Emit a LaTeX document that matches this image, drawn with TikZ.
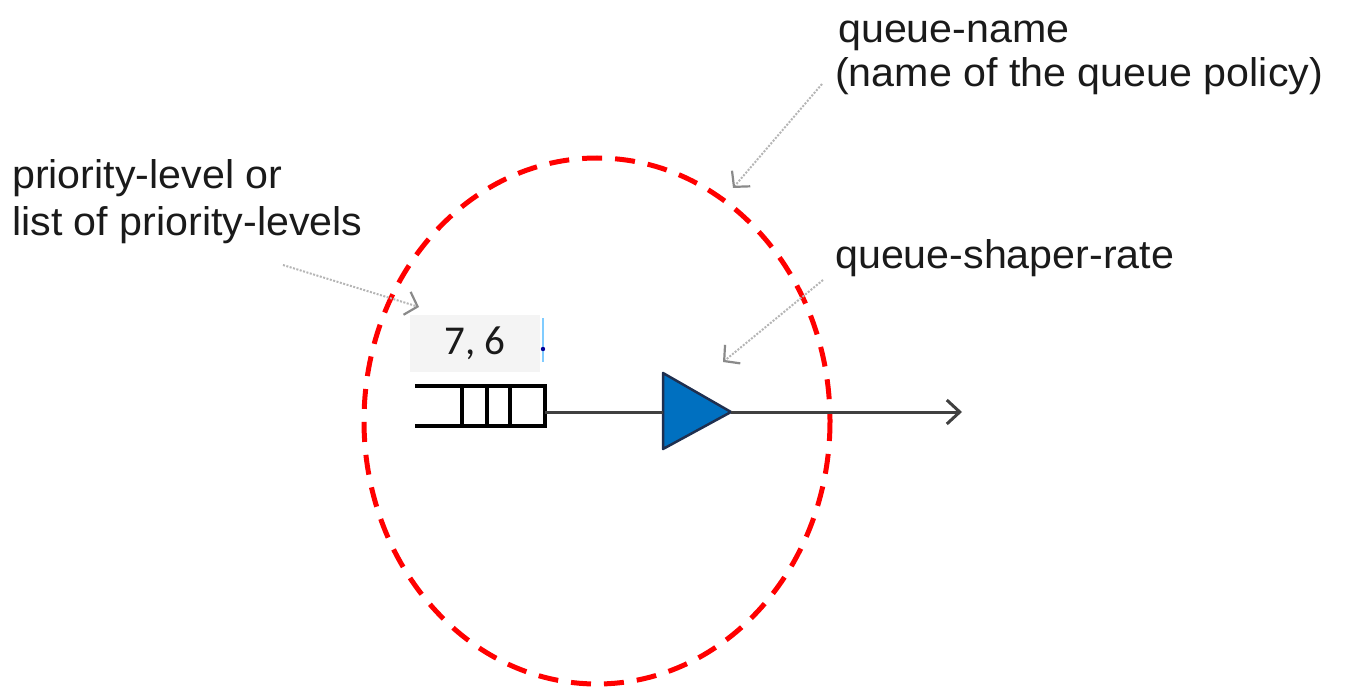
\documentclass[tikz,border=0pt]{standalone}
\usepackage{fontspec}
\setmainfont{Liberation Sans}
\newfontfamily\numfont{Carlito}
\usetikzlibrary{arrows.meta}
\definecolor{txt}{HTML}{1A1A1A}
\definecolor{shaperblue}{HTML}{0070C0}
\definecolor{shaperedge}{HTML}{1F2F4F}
\definecolor{lblgray}{HTML}{B5B5B5}
\definecolor{tipgray}{HTML}{8A8A8A}
\definecolor{boxbg}{HTML}{F4F4F4}
\tikzset{
  lbl/.style={anchor=base west, inner sep=0pt, text=txt, font=\fontsize{40}{46}\selectfont, xscale=1.03},
  pointer/.style={draw=lblgray, line width=2pt, dash pattern=on 2pt off 1.5pt,
    -{Straight Barb[length=11pt,width=24pt,line width=2.2pt,color=tipgray]}},
  queueline/.style={line width=4pt, draw=black, line cap=rect},
}
\begin{document}
\begin{tikzpicture}[x=1pt,y=-1pt]
\useasboundingbox (0,0) rectangle (1347,687);
% labels
\node[lbl] (qn1) at (838,43) {queue-name};
\node[lbl] (qn2) at (835,87) {(name of the queue policy)};
\node[lbl] (pl1) at (12,189) {priority-level or};
\node[lbl] (pl2) at (12,236) {list of priority-levels};
\node[lbl] (qs) at (835,269) {queue-shaper-rate};
% dashed circle
\draw[red, line width=5pt, dash pattern=on 20pt off 13pt] (597,421) ellipse [x radius=233, y radius=263];
% priority box
\node[fill=boxbg, minimum width=130pt, minimum height=57pt, inner sep=0pt,
      font=\numfont\fontsize{41}{41}\selectfont, text=txt] (prio) at (475,343.5) {7, 6};
\draw[color=blue!40!cyan!50, line width=1.5pt] (543,318) -- (543,362);
\fill[blue!60!black] (543,349) circle (2.2pt);
% queue
\draw[queueline] (417,386) -- (545,386) -- (545,426) -- (417,426);
\foreach \x in {462,487,510} \draw[queueline] (\x,386) -- (\x,426);
\coordinate (qout) at (545,412);
% shaper
\draw[draw=shaperedge, fill=shaperblue, line width=2.5pt, line join=round] (663,373) -- (731,412) -- (663,449) -- cycle;
\coordinate (tipL) at (663,412);
\coordinate (tipR) at (731,412);
\coordinate (out) at (962,412);
\draw[line width=3pt, draw=black!75] (qout) -- (tipL);
\draw[line width=3pt, draw=black!75, -{Straight Barb[length=13pt,width=24pt,line width=3pt]}] (tipR) -- (out);
% pointers
\coordinate (p1s) at (822,84);
\coordinate (p1e) at (733,188);
\coordinate (p2s) at (283,265);
\coordinate (p2e) at (419,307);
\coordinate (p3s) at (823,280);
\coordinate (p3e) at (723,362);
\draw[pointer] (p1s) -- (p1e);
\draw[pointer] (p2s) -- (p2e);
\draw[pointer] (p3s) -- (p3e);
\end{tikzpicture}
\end{document}
